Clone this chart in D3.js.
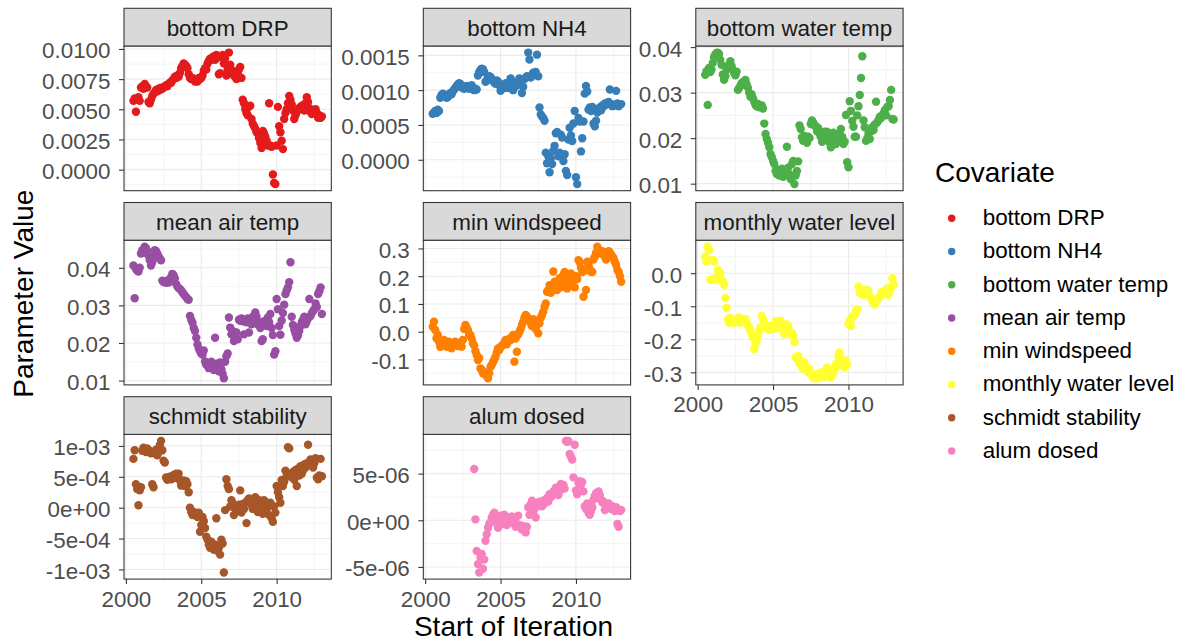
<!DOCTYPE html>
<html>
<head>
<meta charset="utf-8">
<script src="https://cdn.jsdelivr.net/npm/d3@7"></script>
<style>
  html, body { margin: 0; padding: 0; background: #ffffff; }
  svg { display: block; }
</style>
</head>
<body>
<svg id="chart" width="1186" height="641"></svg>
<script>
// Facet / legend order and Set1 colours
const covariates = ["bottom DRP", "bottom NH4", "bottom water temp", "mean air temp",
                    "min windspeed", "monthly water level", "schmidt stability", "alum dosed"];
const covariateColors = ["#E41A1C", "#377EB8", "#4DAF4A", "#984EA3",
                         "#FF7F00", "#FFFF33", "#A65628", "#F781BF"];

// Start of the first iteration (decimal year); iterations advance one month at a time
const seriesStart = [2000.5, 2000.5, 2000.5, 2000.5, 2000.5, 2000.5, 2000.5, 2003.25];

// Parameter values per iteration
const bottomDRP = [
  0.0057, 0.0059, 0.0048, 0.0058, 0.0060, 0.0057,
  0.0068, 0.0069, 0.0067, 0.0071, 0.0069, 0.0068,
  0.0056, 0.0055, 0.0058, 0.0061, 0.0063, 0.0064,
  0.0066, 0.0065, 0.0067, 0.0066, 0.0068, 0.0067,
  0.0068, 0.0069, 0.0070, 0.0069, 0.0071, 0.0072,
  0.0072, 0.0074, 0.0075, 0.0077, 0.0076, 0.0078,
  0.0077, 0.0080, 0.0084, 0.0086, 0.0088, 0.0087,
  0.0086, 0.0084, 0.0079, 0.0076, 0.0075, 0.0076,
  0.0075, 0.0073, 0.0074, 0.0073, 0.0076, 0.0075,
  0.0076, 0.0078, 0.0082, 0.0084, 0.0083, 0.0088,
  0.0090, 0.0092, 0.0091, 0.0093, 0.0094, 0.0091,
  0.0095, 0.0093, 0.0079, 0.0080, 0.0093, 0.0095,
  0.0088, 0.0092, 0.0078, 0.0083, 0.0097, 0.0087,
  0.0080, 0.0082, 0.0078, 0.0077, 0.0075, 0.0080,
  0.0083, 0.0085, 0.0076, 0.0058, 0.0055, 0.0050,
  0.0047, 0.0045, 0.0052, 0.0053, 0.0042, 0.0038,
  0.0036, 0.0034, 0.0031, 0.0030, 0.0026, 0.0022,
  0.0018, 0.0032, 0.0030, 0.0027, 0.0024, 0.0020,
  0.0055, 0.0020, 0.0019, -0.0004, -0.0011, -0.0012,
  0.0020, 0.0052, 0.0036, 0.0031, 0.0024, 0.0017,
  0.0042, 0.0047, 0.0050, 0.0055, 0.0061, 0.0058,
  0.0054, 0.0049, 0.0042, 0.0045, 0.0048, 0.0050,
  0.0051, 0.0052, 0.0053, 0.0050, 0.0049, 0.0055,
  0.0060, 0.0056, 0.0051, 0.0048, 0.0046, 0.0047,
  0.0049, 0.0050, 0.0047, 0.0043, 0.0045, 0.0043,
  0.0044
];
const bottomNH4 = [
  0.00066, 0.00068, 0.00070, 0.00067, 0.00072, 0.00070,
  0.00089, 0.00093, 0.00095, 0.00094, 0.00092, 0.00089,
  0.00090, 0.00093, 0.00096, 0.00094, 0.00098, 0.00101,
  0.00103, 0.00106, 0.00108, 0.00110, 0.00109, 0.00104,
  0.00103, 0.00102, 0.00105, 0.00106, 0.00104, 0.00102,
  0.00105, 0.00107, 0.00103, 0.00100, 0.00102, 0.00101,
  0.00121, 0.00126, 0.00129, 0.00131, 0.00130, 0.00126,
  0.00112, 0.00114, 0.00118, 0.00120, 0.00119, 0.00116,
  0.00113, 0.00111, 0.00109, 0.00114, 0.00112, 0.00107,
  0.00099, 0.00104, 0.00107, 0.00103, 0.00110, 0.00106,
  0.00103, 0.00109, 0.00117, 0.00112, 0.00100, 0.00104,
  0.00110, 0.00107, 0.00113, 0.00117, 0.00112, 0.00096,
  0.00105, 0.00116, 0.00118, 0.00120, 0.00154, 0.00144,
  0.00118, 0.00122, 0.00125, 0.00123, 0.00126, 0.00151,
  0.00120, 0.00075, 0.00065, 0.00062, 0.00060, 0.00056,
  0.00010, -0.00005, 0.00005, -0.00018, 0.00002, -0.00006,
  0.00013, 0.00020, 0.00038, 0.00040, 0.00005, 0.00010,
  0.00036, 0.00032, -0.00002, 0.00008, -0.00016, -0.00022,
  0.00029, 0.00046, 0.00035, 0.00027, 0.00052, 0.00070,
  -0.00025, -0.00035, 0.00060, 0.00055, 0.00012, 0.00031,
  0.00055, 0.00095, 0.00106, 0.00098, 0.00072, 0.00075,
  0.00070, 0.00076, 0.00052, 0.00048, 0.00056, 0.00068,
  0.00072, 0.00075, 0.00071, 0.00078, 0.00077, 0.00081,
  0.00079, 0.00082, 0.00083, 0.00101, 0.00080, 0.00077,
  0.00078, 0.00079, 0.00099, 0.00081, 0.00077, 0.00079,
  0.00080
];
const bottomWaterTemp = [
  0.0339, 0.0347, 0.0273, 0.0354, 0.0345, 0.0350,
  0.0365, 0.0378, 0.0384, 0.0387, 0.0388, 0.0385,
  0.0372, 0.0361, 0.0340, 0.0328, 0.0336, 0.0350,
  0.0355, 0.0362, 0.0369, 0.0358, 0.0350, 0.0343,
  0.0338, 0.0346, 0.0306, 0.0310, 0.0315, 0.0321,
  0.0318, 0.0325, 0.0328, 0.0318, 0.0311, 0.0300,
  0.0291, 0.0296, 0.0287, 0.0280, 0.0273, 0.0270,
  0.0275, 0.0268, 0.0270, 0.0272, 0.0265, 0.0232,
  0.0209, 0.0198, 0.0190, 0.0180, 0.0165, 0.0158,
  0.0150, 0.0143, 0.0128, 0.0121, 0.0130, 0.0118,
  0.0125, 0.0133, 0.0115, 0.0122, 0.0128, 0.0181,
  0.0135, 0.0121, 0.0110, 0.0143, 0.0150, 0.0099,
  0.0118, 0.0128, 0.0149, 0.0228, 0.0220, 0.0202,
  0.0194, 0.0205, 0.0198, 0.0190, 0.0203, 0.0200,
  0.0231, 0.0239, 0.0234, 0.0228, 0.0226, 0.0215,
  0.0222, 0.0210, 0.0203, 0.0192, 0.0200, 0.0214,
  0.0206, 0.0214, 0.0202, 0.0190, 0.0180, 0.0205,
  0.0212, 0.0198, 0.0187, 0.0205, 0.0195, 0.0210,
  0.0220, 0.0203, 0.0187, 0.0192, 0.0251, 0.0147,
  0.0136, 0.0281, 0.0260, 0.0238, 0.0225, 0.0203,
  0.0203, 0.0250, 0.0270, 0.0295, 0.0332, 0.0380,
  0.0239, 0.0224, 0.0194, 0.0200, 0.0210, 0.0198,
  0.0215, 0.0224, 0.0218, 0.0230, 0.0280, 0.0235,
  0.0240, 0.0247, 0.0244, 0.0250, 0.0255, 0.0262,
  0.0250, 0.0269, 0.0270, 0.0284, 0.0306, 0.0242,
  0.0241
];
const meanAirTemp = [
  0.0406, 0.0319, 0.0397, 0.0393, 0.0390, 0.0400,
  0.0438, 0.0447, 0.0440, 0.0456, 0.0452, 0.0445,
  0.0433, 0.0420, 0.0406, 0.0415, 0.0428, 0.0447,
  0.0445, 0.0438, 0.0430, 0.0424, 0.0420, 0.0366,
  0.0362, 0.0364, 0.0360, 0.0366, 0.0361, 0.0370,
  0.0375, 0.0384, 0.0380, 0.0372, 0.0357, 0.0350,
  0.0346, 0.0344, 0.0340, 0.0335, 0.0330, 0.0326,
  0.0322, 0.0317, 0.0315, 0.0272, 0.0262, 0.0254,
  0.0240, 0.0232, 0.0214, 0.0196, 0.0185, 0.0178,
  0.0172, 0.0169, 0.0180, 0.0151, 0.0142, 0.0147,
  0.0133, 0.0140, 0.0150, 0.0137, 0.0128, 0.0214,
  0.0145, 0.0135, 0.0125, 0.0148, 0.0130, 0.0118,
  0.0106, 0.0150, 0.0165, 0.0172, 0.0268, 0.0241,
  0.0223, 0.0232, 0.0205, 0.0215, 0.0228, 0.0210,
  0.0262, 0.0259, 0.0265, 0.0258, 0.0223, 0.0262,
  0.0255, 0.0265, 0.0228, 0.0260, 0.0250, 0.0270,
  0.0262, 0.0281, 0.0270, 0.0249, 0.0255, 0.0240,
  0.0205, 0.0210, 0.0258, 0.0248, 0.0245, 0.0268,
  0.0255, 0.0277, 0.0240, 0.0221, 0.0169, 0.0178,
  0.0317, 0.0290, 0.0245, 0.0222, 0.0260, 0.0280,
  0.0302, 0.0330, 0.0340, 0.0348, 0.0362, 0.0415,
  0.0270, 0.0248, 0.0235, 0.0225, 0.0214, 0.0220,
  0.0232, 0.0245, 0.0255, 0.0262, 0.0270, 0.0250,
  0.0258, 0.0265, 0.0317, 0.0272, 0.0280, 0.0285,
  0.0290, 0.0305, 0.0296, 0.0330, 0.0338, 0.0348,
  0.0277
];
const minWindspeed = [
  0.018, 0.036, 0.006, -0.024, -0.012, -0.036,
  -0.054, -0.045, -0.036, -0.030, -0.042, -0.054,
  -0.045, -0.036, -0.048, -0.060, -0.050, -0.040,
  -0.036, -0.045, -0.052, -0.048, -0.040, -0.054,
  -0.030, 0.010, 0.024, 0.015, 0.005, -0.012,
  -0.012, -0.025, -0.042, -0.050, -0.070, -0.084,
  -0.102, -0.095, -0.132, -0.138, -0.150, -0.145,
  -0.155, -0.160, -0.168, -0.150, -0.126, -0.120,
  -0.110, -0.100, -0.090, -0.075, -0.060, -0.066,
  -0.055, -0.050, -0.048, -0.040, -0.030, -0.045,
  -0.035, -0.025, -0.030, -0.020, -0.012, -0.108,
  -0.025, -0.072, -0.010, 0.000, 0.010, 0.025,
  0.036, 0.050, 0.060, 0.055, 0.045, 0.040,
  0.030, 0.020, 0.045, 0.035, 0.010, 0.025,
  -0.006, 0.030, 0.050, 0.060, 0.072, 0.090,
  0.102, 0.144, 0.150, 0.168, 0.140, 0.155,
  0.217, 0.180, 0.160, 0.150, 0.175, 0.193,
  0.160, 0.170, 0.205, 0.215, 0.190, 0.156,
  0.175, 0.200, 0.210, 0.180, 0.190, 0.160,
  0.200, 0.190, 0.258, 0.250, 0.230, 0.215,
  0.126, 0.220, 0.150, 0.252, 0.240, 0.225,
  0.216, 0.215, 0.260, 0.270, 0.285, 0.306,
  0.294, 0.288, 0.282, 0.290, 0.285, 0.270,
  0.260, 0.280, 0.290, 0.285, 0.278, 0.270,
  0.265, 0.250, 0.240, 0.222, 0.215, 0.200,
  0.180
];
const monthlyWaterLevel = [
  0.050, 0.035, 0.080, 0.070, -0.020, -0.018,
  0.040, 0.035, -0.015, -0.020, 0.010, 0.005,
  0.000, -0.020, -0.025, -0.035, -0.075, -0.105,
  -0.140, -0.150, -0.135, -0.145, -0.140, -0.150,
  -0.145, -0.140, -0.138, -0.134, -0.150, -0.145,
  -0.140, -0.145, -0.138, -0.150, -0.159, -0.165,
  -0.174, -0.185, -0.195, -0.229, -0.215, -0.204,
  -0.190, -0.175, -0.164, -0.129, -0.140, -0.160,
  -0.155, -0.165, -0.170, -0.160, -0.165, -0.170,
  -0.160, -0.155, -0.145, -0.165, -0.160, -0.150,
  -0.144, -0.165, -0.175, -0.185, -0.170, -0.155,
  -0.160, -0.175, -0.185, -0.180, -0.190, -0.209,
  -0.253, -0.260, -0.250, -0.273, -0.265, -0.283,
  -0.290, -0.270, -0.283, -0.295, -0.300, -0.290,
  -0.303, -0.308, -0.315, -0.318, -0.310, -0.305,
  -0.318, -0.312, -0.300, -0.310, -0.315, -0.305,
  -0.293, -0.285, -0.300, -0.310, -0.315, -0.305,
  -0.303, -0.290, -0.275, -0.270, -0.250, -0.240,
  -0.258, -0.280, -0.275, -0.285, -0.265, -0.275,
  -0.154, -0.144, -0.160, -0.134, -0.130, -0.124,
  -0.115, -0.109, -0.040, -0.060, -0.055, -0.050,
  -0.065, -0.060, -0.055, -0.050, -0.060, -0.070,
  -0.075, -0.085, -0.090, -0.095, -0.085, -0.080,
  -0.075, -0.070, -0.060, -0.055, -0.058, -0.062,
  -0.050, -0.045, -0.065, -0.050, -0.045, -0.015,
  -0.035
];
const schmidtStability = [
  0.00079, 0.00093, 0.00038, 0.00030, 0.00004, 0.00028,
  0.00033, 0.00092, 0.00097, 0.00094, 0.00090, 0.00096,
  0.00090, 0.00092, 0.00088, 0.00038, 0.00033, 0.00088,
  0.00094, 0.00085, 0.00090, 0.00101, 0.00108, 0.00093,
  0.00076, 0.00073, 0.00049, 0.00045, 0.00047, 0.00050,
  0.00046, 0.00051, 0.00053, 0.00048, 0.00055, 0.00050,
  0.00055, 0.00044, 0.00036, 0.00040, 0.00044, 0.00035,
  0.00043, 0.00038, 0.00025, 0.00000, -0.00007, -0.00012,
  -0.00007, -0.00012, -0.00010, -0.00015, -0.00008, -0.00039,
  -0.00028, -0.00015, -0.00022, -0.00033, -0.00047, -0.00052,
  -0.00060, -0.00065, -0.00055, -0.00062, -0.00068, -0.00060,
  -0.00017, -0.00070, -0.00065, -0.00076, -0.00052, -0.00058,
  -0.00105, -0.00004, 0.00046, 0.00035, 0.00030, 0.00002,
  0.00012, 0.00007, -0.00012, -0.00002, 0.00000, -0.00005,
  0.00005, 0.00028, -0.00008, 0.00006, -0.00002, 0.00008,
  -0.00025, 0.00012, 0.00015, 0.00008, 0.00004, -0.00002,
  0.00006, 0.00017, 0.00009, -0.00007, 0.00012, 0.00000,
  0.00011, -0.00010, 0.00012, 0.00001, -0.00003, 0.00003,
  -0.00012, 0.00008, -0.00017, -0.00023, 0.00002, -0.00008,
  0.00035, 0.00025, 0.00017, 0.00008, 0.00045, 0.00035,
  0.00042, 0.00060, 0.00052, 0.00098, 0.00096, 0.00050,
  0.00055, 0.00058, 0.00045, 0.00061, 0.00035, 0.00063,
  0.00052, 0.00067, 0.00055, 0.00060, 0.00070, 0.00065,
  0.00072, 0.00102, 0.00070, 0.00078, 0.00076, 0.00065,
  0.00072, 0.00080, 0.00049, 0.00046, 0.00052, 0.00079,
  0.00051
];
const alumDosed = [
  5.5e-6, 0.1e-6, -3.3e-6, -4.7e-6, -5.6e-6, -4.0e-6,
  -3.6e-6, -5.2e-6, -4.2e-6, -2.2e-6, -1.5e-6, -0.8e-6,
  -0.4e-6, -0.2e-6, 0.3e-6, 0.6e-6, 0.8e-6, 0.5e-6,
  -0.3e-6, -0.8e-6, 0.2e-6, 0.5e-6, 0.1e-6, -0.4e-6,
  0.6e-6, 0.2e-6, -0.5e-6, 0.3e-6, 0.0e-6, -0.2e-6,
  0.4e-6, -0.3e-6, 0.1e-6, -0.7e-6, -0.4e-6, 0.5e-6,
  -0.5e-6, -0.8e-6, -1.0e-6, -0.6e-6, -1.1e-6, -1.3e-6,
  -0.7e-6, 1.4e-6, 0.6e-6, 1.7e-6, 2.1e-6, 0.8e-6,
  1.2e-6, 0.3e-6, 1.5e-6, 1.9e-6, 2.0e-6, 1.6e-6,
  1.5e-6, 2.1e-6, 1.8e-6, 2.2e-6, 2.4e-6, 2.0e-6,
  2.8e-6, 2.5e-6, 2.6e-6, 3.1e-6, 2.9e-6, 3.5e-6,
  3.3e-6, 2.7e-6, 3.1e-6, 3.9e-6, 3.6e-6, 3.8e-6,
  3.4e-6, 8.5e-6, 8.4e-6, 8.5e-6, 7.1e-6, 6.8e-6,
  6.5e-6, 4.6e-6, 8.1e-6, 3.2e-6, 2.8e-6, 4.0e-6,
  4.2e-6, 3.8e-6, 4.1e-6, 3.1e-6, 1.5e-6, 1.2e-6,
  1.8e-6, 0.8e-6, 0.6e-6, 1.0e-6, 1.4e-6, 2.2e-6,
  2.6e-6, 2.9e-6, 2.4e-6, 3.1e-6, 2.7e-6, 2.2e-6,
  1.9e-6, 2.0e-6, 1.1e-6, 1.4e-6, 1.7e-6, 1.8e-6,
  1.6e-6, 1.2e-6, 1.5e-6, 1.3e-6, 1.0e-6, 1.4e-6,
  -0.4e-6, -0.7e-6, 1.0e-6, 1.1e-6
];
const seriesValues = [bottomDRP, bottomNH4, bottomWaterTemp, meanAirTemp,
                      minWindspeed, monthlyWaterLevel, schmidtStability, alumDosed];

// Axis breaks and labels
const xTickValues = [2000, 2005, 2010];
const xTickLabels = ["2000", "2005", "2010"];
const yTickValues = [
  [0, 0.0025, 0.005, 0.0075, 0.01],
  [0, 0.0005, 0.001, 0.0015],
  [0.01, 0.02, 0.03, 0.04],
  [0.01, 0.02, 0.03, 0.04],
  [-0.1, 0, 0.1, 0.2, 0.3],
  [-0.3, -0.2, -0.1, 0],
  [-0.001, -0.0005, 0, 0.0005, 0.001],
  [-5e-6, 0, 5e-6]
];
const yTickLabels = [
  ["0.0000", "0.0025", "0.0050", "0.0075", "0.0100"],
  ["0.0000", "0.0005", "0.0010", "0.0015"],
  ["0.01", "0.02", "0.03", "0.04"],
  ["0.01", "0.02", "0.03", "0.04"],
  ["-0.1", "0.0", "0.1", "0.2", "0.3"],
  ["-0.3", "-0.2", "-0.1", "0.0"],
  ["-1e-03", "-5e-04", "0e+00", "5e-04", "1e-03"],
  ["-5e-06", "0e+00", "5e-06"]
];

// ---- layout ----
const FONT = '"Liberation Sans", Arial, Helvetica, sans-serif';
const colLeft = [124, 423.3, 695.8];
const panelW = 207.3;
const rowTop = [8.3, 202.5, 396.7];
const stripH = 37.7;
const panelH = 144.7;
const smallFont = 22.4, titleFont = 28;
const ink = "#333333";

const svg = d3.select("#chart").style("font-family", FONT);
svg.append("rect").attr("width", 1186).attr("height", 641).attr("fill", "#ffffff");

// shared x domain with 5% expansion
const xEnds = seriesValues.flatMap((v, k) => [seriesStart[k], seriesStart[k] + (v.length - 1) / 12]);
const [xLo, xHi] = d3.extent(xEnds);
const xDomain = [xLo - (xHi - xLo) * 0.05, xHi + (xHi - xLo) * 0.05];

function minorBreaks(majors, domain) {
  const step = majors[1] - majors[0];
  const ext = [majors[0] - step, ...majors, majors[majors.length - 1] + step];
  const out = [];
  for (let i = 0; i < ext.length - 1; i++) {
    const m = (ext[i] + ext[i + 1]) / 2;
    if (m >= domain[0] && m <= domain[1]) out.push(m);
  }
  return out;
}

seriesValues.forEach((vals, k) => {
  const col = k % 3, row = Math.floor(k / 3);
  const left = colLeft[col];
  const stripTop = rowTop[row];
  const top = stripTop + stripH;
  const bottom = top + panelH;

  const x = d3.scaleLinear().domain(xDomain).range([left, left + panelW]);
  const [yLo, yHi] = d3.extent(vals);
  const yPad = (yHi - yLo) * 0.05;
  const y = d3.scaleLinear().domain([yLo - yPad, yHi + yPad]).range([bottom, top]);

  const g = svg.append("g");
  g.append("rect").attr("x", left).attr("y", top).attr("width", panelW).attr("height", panelH)
    .attr("fill", "#ffffff");

  // grid
  const grid = g.append("g");
  const xMinor = minorBreaks(xTickValues, x.domain());
  const yMinor = minorBreaks(yTickValues[k], y.domain());
  grid.selectAll(".xmin").data(xMinor).join("line")
    .attr("x1", d => x(d)).attr("x2", d => x(d)).attr("y1", top).attr("y2", bottom)
    .attr("stroke", "#EBEBEB").attr("stroke-width", 0.55);
  grid.selectAll(".ymin").data(yMinor).join("line")
    .attr("x1", left).attr("x2", left + panelW).attr("y1", d => y(d)).attr("y2", d => y(d))
    .attr("stroke", "#EBEBEB").attr("stroke-width", 0.55);
  grid.selectAll(".xmaj").data(xTickValues).join("line")
    .attr("x1", d => x(d)).attr("x2", d => x(d)).attr("y1", top).attr("y2", bottom)
    .attr("stroke", "#EBEBEB").attr("stroke-width", 1.1);
  grid.selectAll(".ymaj").data(yTickValues[k]).join("line")
    .attr("x1", left).attr("x2", left + panelW).attr("y1", d => y(d)).attr("y2", d => y(d))
    .attr("stroke", "#EBEBEB").attr("stroke-width", 1.1);

  // points
  g.append("g").selectAll("circle").data(vals).join("circle")
    .attr("cx", (d, i) => x(seriesStart[k] + i / 12))
    .attr("cy", d => y(d))
    .attr("r", 4.2)
    .attr("fill", covariateColors[k]);

  // panel border
  g.append("rect").attr("x", left).attr("y", top).attr("width", panelW).attr("height", panelH)
    .attr("fill", "none").attr("stroke", ink).attr("stroke-width", 1.07);

  // strip
  g.append("rect").attr("x", left).attr("y", stripTop).attr("width", panelW).attr("height", stripH)
    .attr("fill", "#D9D9D9").attr("stroke", ink).attr("stroke-width", 1.07);
  g.append("text").attr("x", left + panelW / 2).attr("y", stripTop + 27.5)
    .attr("text-anchor", "middle").attr("font-size", smallFont).attr("fill", "#1A1A1A")
    .text(covariates[k]);

  // y axis
  const yAxis = d3.axisLeft(y).tickValues(yTickValues[k])
    .tickFormat((d, i) => yTickLabels[k][i]).tickSizeInner(5).tickSizeOuter(0).tickPadding(8.5);
  const ya = g.append("g").attr("transform", `translate(${left},0)`).call(yAxis);
  ya.select(".domain").remove();
  ya.selectAll(".tick line").attr("stroke", ink).attr("stroke-width", 1.07);
  ya.selectAll(".tick text").attr("font-size", smallFont).attr("fill", "#4D4D4D")
    .attr("font-family", FONT).attr("dy", "0.4em");

  // x axis where the facet is the lowest in its column
  if (row === 2 || (row === 1 && col === 2)) {
    const xAxis = d3.axisBottom(x).tickValues(xTickValues)
      .tickFormat((d, i) => xTickLabels[i]).tickSizeInner(5).tickSizeOuter(0);
    const xa = g.append("g").attr("transform", `translate(0,${bottom})`).call(xAxis);
    xa.select(".domain").remove();
    xa.selectAll(".tick line").attr("stroke", ink).attr("stroke-width", 1.07);
    xa.selectAll(".tick text").attr("font-size", smallFont).attr("fill", "#4D4D4D")
      .attr("font-family", FONT).attr("y", 27.5).attr("dy", 0);
  }
});

// axis titles
svg.append("text").attr("x", (colLeft[0] + colLeft[2] + panelW) / 2).attr("y", 636)
  .attr("text-anchor", "middle").attr("font-size", titleFont).attr("fill", "#000000")
  .text("Start of Iteration");
svg.append("text")
  .attr("transform", `translate(33.3,${(rowTop[0] + rowTop[2] + stripH + panelH) / 2}) rotate(-90)`)
  .attr("text-anchor", "middle").attr("font-size", titleFont).attr("fill", "#000000")
  .text("Parameter Value");

// legend
const legend = svg.append("g");
legend.append("text").attr("x", 935).attr("y", 182.3)
  .attr("font-size", titleFont).attr("fill", "#000000").text("Covariate");
const items = legend.selectAll(".item").data(covariates).join("g")
  .attr("transform", (d, i) => `translate(0,${218.3 + i * 33.24})`);
items.append("circle").attr("cx", 951.7).attr("cy", 0).attr("r", 3.7)
  .attr("fill", (d, i) => covariateColors[i]);
items.append("text").attr("x", 982.7).attr("y", 6.9)
  .attr("font-size", smallFont).attr("fill", "#000000").text(d => d);
</script>
</body>
</html>
